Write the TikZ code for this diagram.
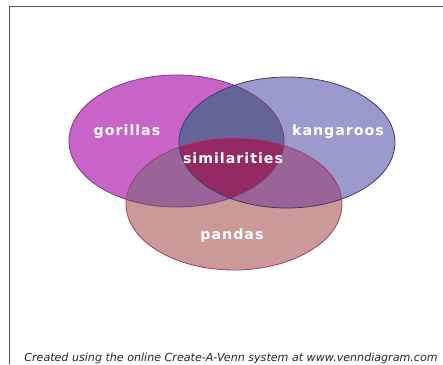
\documentclass[tikz,border=0pt]{standalone}
\usepackage{fontspec}
\newfontfamily\vennfont[LetterSpace=7, BoldFont={DejaVu Sans Bold}]{DejaVu Sans}
\newfontfamily\notefont[ItalicFont={DejaVu Sans Oblique}]{DejaVu Sans}
\usetikzlibrary{positioning}

\definecolor{gorcol}{HTML}{C864C8}
\definecolor{kancol}{HTML}{9A9ACC}
\definecolor{pancol}{HTML}{CC9999}
\definecolor{gkcol}{HTML}{65659A}
\definecolor{gpcol}{HTML}{9A6499}
\definecolor{allcol}{HTML}{942A64}
\definecolor{gorline}{HTML}{7A3A80}
\definecolor{kanline}{HTML}{3A3A6E}
\definecolor{panline}{HTML}{A03C6E}

\def\gorpath{(176.5,141) ellipse [x radius=107.5, y radius=66]}
\def\kanpath{(287,142.5) ellipse [x radius=108, y radius=65.5]}
\def\panpath{(234,204) ellipse [x radius=108, y radius=66]}

\begin{document}
\begin{tikzpicture}[x=1pt, y=-1pt,
    lbl/.style = {text=white, font=\vennfont\bfseries\fontsize{14.2}{16}\selectfont}]
        \useasboundingbox (0,0) rectangle (443,364);

        % frame
        \draw[black!65, line width=1pt] (443,6) -- (9,6) -- (9,364);

        % circles
        \fill[gorcol] \gorpath;
        \fill[kancol] \kanpath;
        \fill[pancol] \panpath;
        \begin{scope}
            \clip \gorpath;
            \fill[gkcol] \kanpath;
            \fill[gpcol] \panpath;
        \end{scope}
        \begin{scope}
            \clip \kanpath;
            \fill[gpcol] \panpath;
        \end{scope}
        \begin{scope}
            \clip \gorpath;
            \clip \kanpath;
            \fill[allcol] \panpath;
        \end{scope}
        \draw[gorline, line width=0.8pt] \gorpath;
        \draw[kanline, line width=0.8pt] \kanpath;
        \draw[panline, line width=0.8pt] \panpath;

        \node[lbl] at (127,132) (gor) {gorillas};
        \node[lbl] at (338,132) (kan) {kangaroos};
        \node[lbl] at (233,158) (sim) {similarities};
        \node[lbl] at (232,236) (pan) {pandas};

        \node[font=\notefont\itshape\fontsize{11.1}{12}\selectfont, text=black!85, anchor=base, inner sep=0pt]
            at (231,361.5) (note) {Created using the online Create-A-Venn system at www.venndiagram.com};
\end{tikzpicture}
\end{document}
